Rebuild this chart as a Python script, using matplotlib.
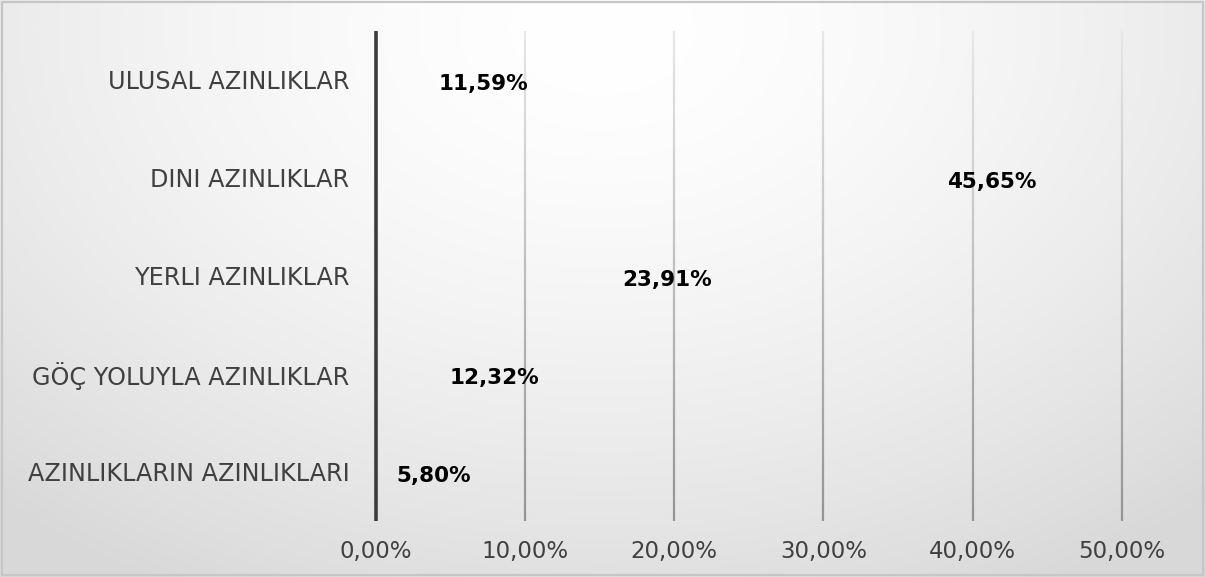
import numpy as np
import matplotlib
matplotlib.use("Agg")
import matplotlib.pyplot as plt
from matplotlib.collections import LineCollection
from matplotlib.patches import Rectangle

categories = ["AZINLIKLARIN AZINLIKLARI", "GÖÇ YOLUYLA AZINLIKLAR",
              "YERLI AZINLIKLAR", "DINI AZINLIKLAR", "ULUSAL AZINLIKLAR"]
values = [5.80, 12.32, 23.91, 45.65, 11.59]
xticks = [0, 10, 20, 30, 40, 50]

plt.rcParams['font.family'] = ['DejaVu Sans']

fig = plt.figure(figsize=(12.05, 5.77), dpi=100)

# soft radial background
bg = fig.add_axes([0, 0, 1, 1], zorder=0)
gx, gy = np.meshgrid(np.linspace(0, 1, 400), np.linspace(0, 1, 200))
r = np.sqrt(((gx - 0.5) / 0.75) ** 2 + ((gy - 0.05) / 1.1) ** 2)
shade = 1.0 - 0.15 * np.clip(r, 0, 1) ** 1.6
bg.imshow(np.dstack([shade] * 3), aspect='auto', extent=[0, 1, 1, 0])
bg.set_xlim(0, 1)
bg.set_ylim(1, 0)
bg.axis('off')
fig.patches.append(Rectangle((0.002, 0.003), 0.996, 0.994, transform=fig.transFigure,
                             fill=False, edgecolor='#c6c6c6', linewidth=1.6))

ax = fig.add_axes([0.312, 0.097, 0.619, 0.850], zorder=1)
ax.patch.set_alpha(0)
y = np.arange(len(categories))
ax.barh(y, values, height=0.6, color='none')
ax.set_xlim(0, 50)
ax.set_ylim(-0.5, len(categories) - 0.5)

# gridlines fading from light at the top to darker at the bottom
n = 60
ys = np.linspace(-0.5, len(categories) - 0.5, n + 1)
segs, cols = [], []
for t in xticks[1:]:
    for i in range(n):
        segs.append([(t, ys[i]), (t, ys[i + 1])])
        g = 0.58 + 0.33 * (i / n)
        cols.append((g, g, g))
ax.add_collection(LineCollection(segs, colors=cols, linewidths=1.6, zorder=1,
                                 clip_on=False, capstyle='butt'))
ax.axvline(0, color='#3c3c3c', linewidth=2.6, zorder=3, clip_on=False,
           solid_capstyle='butt')

for s in ax.spines.values():
    s.set_visible(False)
ax.tick_params(length=0)
ax.set_yticks(y)
ax.set_yticklabels(categories, fontsize=17.2, color='#404040')
ax.tick_params(axis='y', pad=19)
ax.set_xticks(xticks)
ax.set_xticklabels([f"{t:.2f}%".replace('.', ',') for t in xticks], fontsize=16.5, color='#404040')
ax.tick_params(axis='x', pad=14)

# value labels just inside the bar end
for yi, v in zip(y, values):
    txt = f"{v:.2f}%".replace('.', ',')
    if v < 8:
        ax.text(1.4, yi - 0.04, txt, ha='left', va='center', fontsize=15.5,
                fontweight='bold', zorder=4)
    else:
        ax.text(v - 1.4, yi - 0.04, txt, ha='right', va='center', fontsize=15.5,
                fontweight='bold', zorder=4)

fig.savefig("out.png", dpi=100)
